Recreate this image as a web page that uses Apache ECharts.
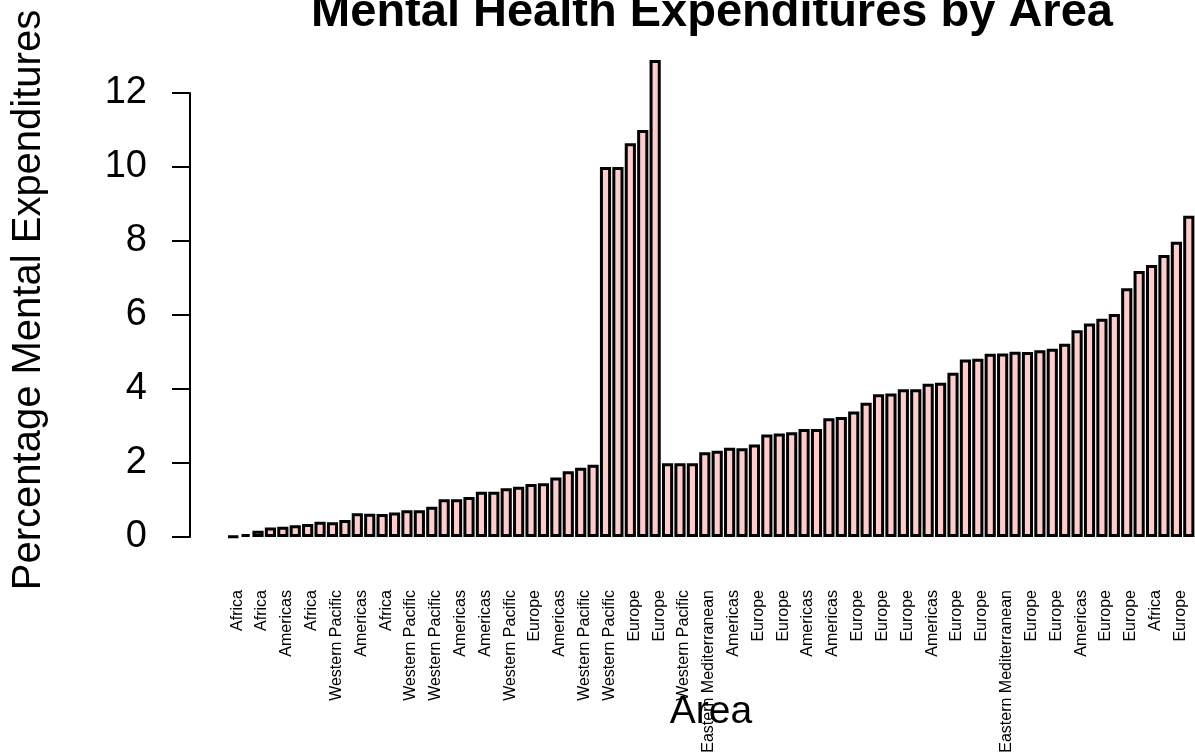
<!DOCTYPE html>
<html>
<head>
<meta charset="utf-8">
<title>Mental Health Expenditures by Area</title>
<script src="https://cdn.jsdelivr.net/npm/echarts@6/dist/echarts.min.js"></script>
<style>
  html, body { margin: 0; padding: 0; background: #ffffff; }
  #chart { width: 1195px; height: 756px; }
</style>
</head>
<body>
<div id="chart"></div>
<script>
// Percentage of health spending that goes to mental health, one bar per country,
// grouped by WHO region.
const expenditures = [
  0.02, 0.08, 0.17, 0.26, 0.28, 0.32, 0.35, 0.41, 0.40, 0.46,
  0.64, 0.63, 0.62, 0.66, 0.72, 0.72, 0.82, 1.02, 1.02, 1.08,
  1.22, 1.22, 1.32, 1.36, 1.43, 1.45, 1.61, 1.78, 1.87, 1.95,
  10.0, 10.0, 10.64, 11.0, 12.89, 1.99, 1.99, 1.99, 2.29, 2.33,
  2.41, 2.40, 2.50, 2.77, 2.80, 2.83, 2.92, 2.92, 3.21, 3.24,
  3.39, 3.63, 3.86, 3.88, 3.99, 3.99, 4.14, 4.17, 4.44, 4.80,
  4.82, 4.95, 4.96, 5.01, 5.00, 5.05, 5.09, 5.22, 5.59, 5.77,
  5.90, 6.03, 6.72, 7.19, 7.35, 7.62, 7.98, 8.68
];

// Region names printed under every second bar (the others do not fit).
const shownAreas = [
  'Africa', 'Africa', 'Americas', 'Africa', 'Western Pacific',
  'Americas', 'Africa', 'Western Pacific', 'Western Pacific', 'Americas',
  'Americas', 'Western Pacific', 'Europe', 'Americas', 'Western Pacific',
  'Western Pacific', 'Europe', 'Europe', 'Western Pacific', 'Eastern Mediterranean',
  'Americas', 'Europe', 'Europe', 'Americas', 'Americas',
  'Europe', 'Europe', 'Europe', 'Americas', 'Europe',
  'Europe', 'Eastern Mediterranean', 'Europe', 'Europe', 'Americas',
  'Europe', 'Europe', 'Africa', 'Europe'
];

const yTicks = { min: 0, max: 12, step: 2 };

const categories = expenditures.map((_, i) => (i % 2 === 0 ? shownAreas[i / 2] : ''));

const FONT = '"Liberation Sans", Arial, sans-serif';

const chart = echarts.init(document.getElementById('chart'), null, { renderer: 'canvas' });

chart.setOption({
  backgroundColor: '#ffffff',
  animation: false,
  title: {
    text: 'Mental Health Expenditures by Area',
    left: 707,
    top: -15,
    textAlign: 'center',
    textStyle: { fontFamily: FONT, fontSize: 47, fontWeight: 'bold', color: '#000' }
  },
  grid: { left: 227, right: 0, top: 93, bottom: 219, containLabel: false, outerBoundsMode: 'none' },
  xAxis: {
    type: 'category',
    data: categories,
    boundaryGap: true,
    axisLine: { show: false },
    axisTick: { show: false },
    axisLabel: {
      interval: 0,
      rotate: 90,
      margin: 53,
      verticalAlign: 'top',
      lineHeight: 8,
      fontFamily: FONT,
      fontSize: 16,
      color: '#000'
    },
    name: 'Area',
    nameLocation: 'middle',
    nameGap: 156,
    nameMoveOverlap: false,
    nameTextStyle: { fontFamily: FONT, fontSize: 39, color: '#000' }
  },
  yAxis: {
    type: 'value',
    min: yTicks.min,
    max: yTicks.max,
    interval: yTicks.step,
    offset: 37,
    axisLine: { show: true, lineStyle: { color: '#000', width: 2 } },
    axisTick: { show: true, length: 18, lineStyle: { color: '#000', width: 2 } },
    splitLine: { show: false },
    axisLabel: { margin: 43, fontFamily: FONT, fontSize: 38, color: '#000' },
    name: 'Percentage Mental Expenditures',
    nameLocation: 'middle',
    nameGap: 141,
    nameMoveOverlap: false,
    nameTextStyle: { fontFamily: FONT, fontSize: 40, color: '#000', padding: [0, 0, 0, 30] }
  },
  series: [{
    type: 'bar',
    data: expenditures,
    barCategoryGap: '10%',
    clip: false,
    itemStyle: { color: '#ffcccc', borderColor: '#000', borderWidth: 3 }
  }]
});
</script>
</body>
</html>
